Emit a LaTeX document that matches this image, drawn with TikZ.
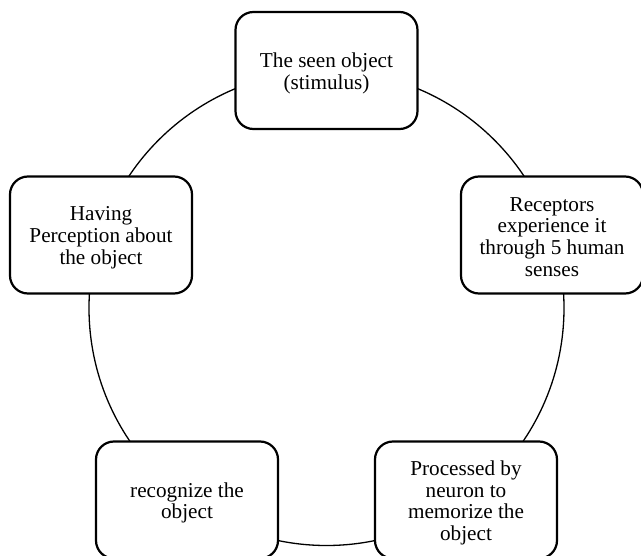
\documentclass[tikz,border=0pt]{standalone}
\usepackage{fontspec}
\setmainfont{Liberation Serif}
\begin{document}
\begin{tikzpicture}[x=1pt,y=-1pt,
  cyclebox/.style={draw=black, line width=2.2pt, fill=white, rounded corners=18pt,
    minimum width=182pt, minimum height=117pt, inner sep=0pt},
  boxtext/.style={align=center, inner sep=0pt, font=\fontsize{21.2}{21.8}\selectfont},
  ring/.style={draw=black, line width=1.3pt}]
\useasboundingbox (0,0) rectangle (641,556);
\clip (0,0) rectangle (641,556);
\coordinate (c) at (326.5,308);
\draw[ring] (c) circle[radius=237.5pt];
\node[cyclebox] (top) at (326.5,70.5) {};
\node[cyclebox] (right) at (552,235) {};
\node[cyclebox] (bright) at (466,500) {};
\node[cyclebox] (bleft) at (187,500) {};
\node[cyclebox] (left) at (101,235) {};
\node[boxtext] (toptext) at ([yshift=-3pt]top.center) {The seen object\\(stimulus)};
\node[boxtext] (righttext) at ([yshift=-2pt]right.center) {Receptors\\experience it\\through 5 human\\senses};
\node[boxtext] (brighttext) at ([yshift=-3pt]bright.center) {Processed by\\neuron to\\memorize the\\object};
\node[boxtext] (blefttext) at ([yshift=-3pt]bleft.center) {recognize the\\object};
\node[boxtext] (lefttext) at ([yshift=-3pt]left.center) {Having\\Perception about\\the object};
\end{tikzpicture}
\end{document}
